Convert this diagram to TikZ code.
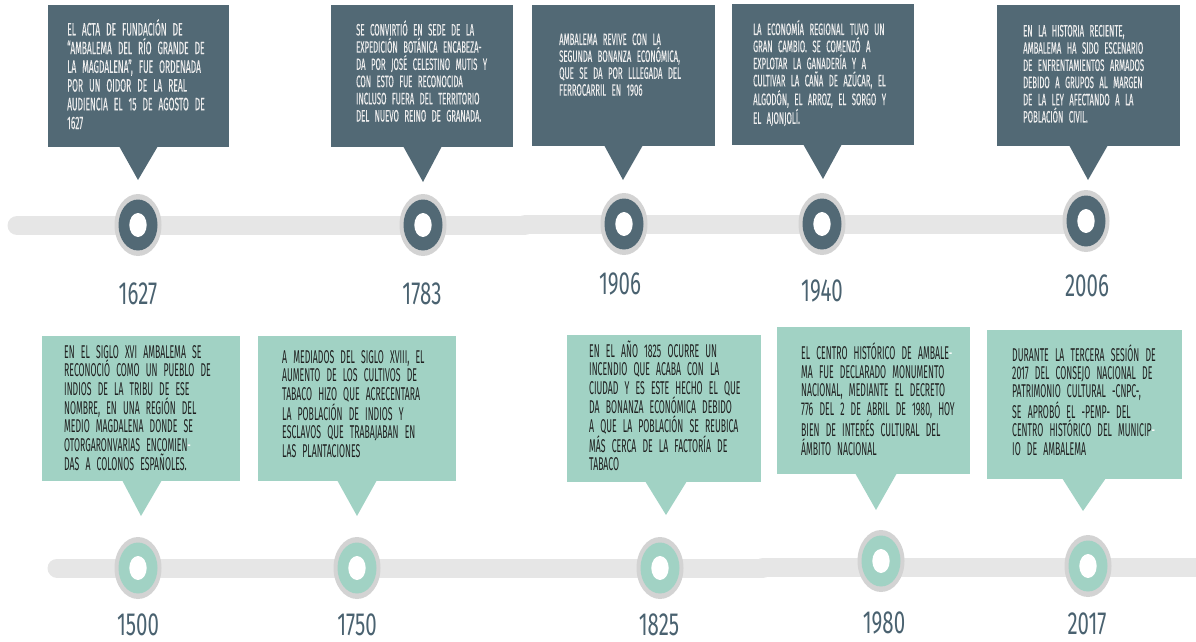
\documentclass[tikz,border=0pt]{standalone}
\usepackage{fontspec}
\setmainfont{Fira Sans}
\newfontfamily\topfont{Fira Sans}[FakeStretch=0.47, FakeBold=0.2]
\newfontfamily\botfont{Fira Sans}[FakeStretch=0.47]
\newfontfamily\yearfont{Fira Sans}[FakeStretch=0.64]
\definecolor{slate}{HTML}{526975}
\definecolor{mint}{HTML}{A1D2C4}
\definecolor{barg}{HTML}{E6E6E6}
\definecolor{ringg}{HTML}{D3D3D3}
\definecolor{yearc}{HTML}{4A6270}
\definecolor{toptxt}{HTML}{EDEDED}
\definecolor{bottxt}{HTML}{1F1F1F}
\newlength\tw
\newcommand\J[1]{\makebox[\tw][s]{#1}\par}
\newcommand\E[1]{\makebox[\tw][l]{#1}\par}
\newcommand\wh[1]{\textcolor{white}{#1}}
\newcommand\marker[2]{%
  \fill[ringg] (#1) ellipse [x radius=23.5pt, y radius=31pt];
  \fill[#2] (#1) ellipse [x radius=19.5pt, y radius=25.5pt];
  \fill[white] (#1) ellipse [x radius=8.7pt, y radius=12pt];}
\tikzset{
  topboxst/.style={fill=slate, draw=none, inner sep=0pt, anchor=north west},
  botboxst/.style={fill=mint, draw=none, inner sep=0pt, anchor=north west},
  toptext/.style={anchor=base west, inner sep=0pt, text=toptxt},
  bottext/.style={anchor=base west, inner sep=0pt, text=bottxt,
     font=\botfont\fontsize{18.5}{18.7}\selectfont},
  yearst/.style={anchor=base, inner sep=0pt, text=yearc,
     font=\yearfont\fontsize{32}{32}\selectfont},
  barst/.style={draw=barg, line width=19pt, line cap=round},
}
\begin{document}
\begin{tikzpicture}[x=1pt, y=-1pt]
\useasboundingbox (0,0) rectangle (1196,642);
% bars
\draw[barst] (17,225.5) -- (525,225.5);
\draw[barst] (525,224.5) -- (1090,224.5);
\draw[barst, line cap=butt] (515,225.5) -- (525,225.5);
\draw[barst] (57,568) -- (763,568);
\draw[barst] (763,567) -- (1210,567);
% top boxes
\node[topboxst, minimum width=181pt, minimum height=142pt] (t1627) at (48,5) {};
\fill[slate] (119,146) -- (158,146) -- (138,180) -- cycle;
\node[topboxst, minimum width=182pt, minimum height=142pt] (t1783) at (331,5) {};
\fill[slate] (403,146) -- (442,146) -- (423,182) -- cycle;
\node[topboxst, minimum width=183pt, minimum height=141pt] (t1906) at (532,5) {};
\fill[slate] (604,145) -- (643,145) -- (623,180) -- cycle;
\node[topboxst, minimum width=182pt, minimum height=141pt] (t1940) at (732,4) {};
\fill[slate] (803,144) -- (842,144) -- (823,179) -- cycle;
\node[topboxst, minimum width=183pt, minimum height=141pt] (t2006) at (997,5) {};
\fill[slate] (1069,145) -- (1108,145) -- (1088,180) -- cycle;
% top texts
\node[toptext, text width=147pt, font=\topfont\fontsize{18}{18.7}\selectfont] (x1627) at (67,35.5) {\setlength\tw{147pt}%
\J{EL ACTA DE FUNDACIÓN DE}\J{“AMBALEMA DEL RÍO GRANDE DE}\J{LA MAGDALENA”, FUE ORDENADA}\J{POR UN OIDOR DE LA REAL}\J{AUDIENCIA EL 15 DE AGOSTO DE}\E{1627}};
\node[toptext, text width=137pt, font=\topfont\fontsize{16.5}{17.2}\selectfont] (x1783) at (356,35.5) {\setlength\tw{137pt}%
\J{SE CONVIRTIÓ EN SEDE DE LA}\J{EXPEDICIÓN BOTÁNICA ENCABEZA-}\J{DA POR JOSÉ CELESTINO MUTIS Y}\J{CON ESTO FUE RECONOCIDA}\J{INCLUSO FUERA DEL TERRITORIO}\E{DEL NUEVO REINO DE GRANADA.}};
\node[toptext, text width=138pt, font=\topfont\fontsize{16.5}{16.9}\selectfont] (x1906) at (559,45) {\setlength\tw{138pt}%
\J{AMBALEMA REVIVE CON LA}\J{SEGUNDA BONANZA ECONÓMICA,}\J{QUE SE DA POR LLLEGADA DEL}\E{FERROCARRIL EN 1906}};
\node[toptext, text width=139pt, font=\topfont\fontsize{16.5}{17.1}\selectfont] (x1940) at (753,35) {\setlength\tw{139pt}%
\J{LA ECONOMÍA REGIONAL TUVO UN}\J{GRAN CAMBIO. SE COMENZÓ A}\J{EXPLOTAR LA GANADERÍA Y A}\J{CULTIVAR LA CAÑA DE AZÚCAR, EL}\J{ALGODÓN, EL ARROZ, EL SORGO Y}\E{EL AJONJOLÍ.}};
\node[toptext, text width=134pt, font=\topfont\fontsize{16.5}{17.2}\selectfont] (x2006) at (1023,36.5) {\setlength\tw{134pt}%
\J{EN LA HISTORIA RECIENTE,}\J{AMBALEMA HA SIDO ESCENARIO}\J{DE ENFRENTAMIENTOS ARMADOS}\J{DEBIDO A GRUPOS AL MARGEN}\J{DE LA LEY AFECTANDO A LA}\E{POBLACIÓN CIVIL.}};
% bottom boxes
\node[botboxst, minimum width=198pt, minimum height=145pt] (b1500) at (42,336) {};
\fill[mint] (122,480) -- (162,480) -- (141,516) -- cycle;
\node[botboxst, minimum width=198pt, minimum height=145pt] (b1750) at (258,336) {};
\fill[mint] (337,480) -- (377,480) -- (357,516) -- cycle;
\node[botboxst, minimum width=194pt, minimum height=147pt] (b1825) at (567,335) {};
\fill[mint] (645,481) -- (687,481) -- (666,515) -- cycle;
\node[botboxst, minimum width=193pt, minimum height=147pt] (b1980) at (777,327) {};
\fill[mint] (855,473) -- (897,473) -- (876,510) -- cycle;
\node[botboxst, minimum width=195pt, minimum height=149pt] (b2017) at (987,330) {};
\fill[mint] (1062,478) -- (1106,478) -- (1083,511) -- cycle;
% bottom texts
\node[bottext, text width=150pt] (x1500) at (64,358) {\setlength\tw{150pt}%
\J{EN EL SIGLO XVI AMBALEMA SE}\J{RECONOCIÓ COMO UN PUEBLO DE}\J{INDIOS DE LA TRIBU DE ESE}\J{NOMBRE, EN UNA REGIÓN DEL}\J{MEDIO MAGDALENA DONDE SE}\J{OTORGARONVARIAS ENCOMIEN\wh{-}}\E{DAS A COLONOS ESPAÑOLES.}};
\node[bottext, text width=150pt] (x1750) at (282,363) {\setlength\tw{150pt}%
\J{A MEDIADOS DEL SIGLO XVIII, EL}\J{AUMENTO DE LOS CULTIVOS DE}\J{TABACO HIZO QUE ACRECENTARA}\J{LA POBLACIÓN DE INDIOS Y}\J{ESCLAVOS QUE TRABAJABAN EN}\E{LAS PLANTACIONES}};
\node[bottext, text width=151pt, font=\botfont\fontsize{18.5}{18.5}\selectfont] (x1825) at (589,357) {\setlength\tw{151pt}%
\J{EN EL AÑO 1825 OCURRE UN}\J{INCENDIO QUE ACABA CON LA}\J{CIUDAD Y ES ESTE HECHO EL QUE}\J{DA BONANZA ECONÓMICA DEBIDO}\J{A QUE LA POBLACIÓN SE REUBICA}\J{MÁS CERCA DE LA FACTORÍA DE}\E{TABACO}};
\node[bottext, text width=151pt] (x1980) at (801,359.5) {\setlength\tw{151pt}%
\J{EL CENTRO HISTÓRICO DE AMBALE\wh{-}}\J{MA FUE DECLARADO MONUMENTO}\J{NACIONAL, MEDIANTE EL DECRETO}\J{776 DEL 2 DE ABRIL DE 1980, HOY}\J{BIEN DE INTERÉS CULTURAL DEL}\E{ÁMBITO NACIONAL}};
\node[bottext, text width=150pt, font=\botfont\fontsize{18.5}{18.3}\selectfont] (x2017) at (1012,361) {\setlength\tw{150pt}%
\J{DURANTE LA TERCERA SESIÓN DE}\J{2017 DEL CONSEJO NACIONAL DE}\J{PATRIMONIO CULTURAL -CNPC-,}\J{SE APROBÓ EL -PEMP- DEL}\J{CENTRO HISTÓRICO DEL MUNICIP\wh{-}}\E{IO DE AMBALEMA}};
% markers top
\coordinate (m1627) at (138,225);
\coordinate (m1783) at (423,225);
\coordinate (m1906) at (624,224);
\coordinate (m1940) at (822,224);
\coordinate (m2006) at (1086,221);
\marker{m1627}{slate}
\marker{m1783}{slate}
\marker{m1906}{slate}
\marker{m1940}{slate}
\marker{m2006}{slate}
% markers bottom
\coordinate (m1500) at (138,568);
\coordinate (m1750) at (357,568);
\coordinate (m1825) at (660,568);
\coordinate (m1980) at (881,561);
\coordinate (m2017) at (1088,566);
\marker{m1500}{mint}
\marker{m1750}{mint}
\marker{m1825}{mint}
\marker{m1980}{mint}
\marker{m2017}{mint}
% years
\node[yearst] (y1627) at (138,304) {1627};
\node[yearst] (y1783) at (422,304) {1783};
\node[yearst] (y1906) at (620,294) {1906};
\node[yearst] (y1940) at (822,301) {1940};
\node[yearst] (y2006) at (1087,296) {2006};
\node[yearst] (y1500) at (138,635) {1500};
\node[yearst] (y1750) at (357,635) {1750};
\node[yearst] (y1825) at (659,635) {1825};
\node[yearst] (y1980) at (884,633) {1980};
\node[yearst] (y2017) at (1087,634) {2017};
\end{tikzpicture}
\end{document}
